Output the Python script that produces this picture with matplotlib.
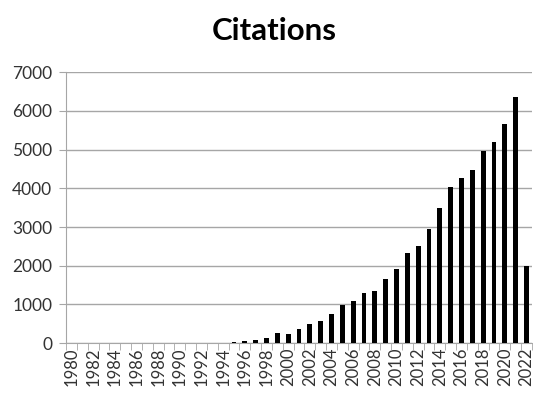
import matplotlib.pyplot as plt
import numpy as np

years = list(range(1980, 2023))
citations = [0] * 15 + [20, 60, 90, 130, 265, 240, 355, 505, 575, 750, 975, 1090,
                        1285, 1355, 1670, 1920, 2330, 2500, 2940, 3500, 4025, 4270,
                        4460, 4960, 5200, 5650, 6365, 2000]
year_labels = [str(y) if y % 2 == 0 else "" for y in years]

plt.rcParams['font.family'] = ['Lato', 'DejaVu Sans']

fig = plt.figure(figsize=(5.33, 3.94), dpi=100)
ax = fig.add_axes([0.124, 0.129, 0.874, 0.688])

x = np.arange(len(years))
ax.bar(x, citations, width=0.45, color='black', zorder=3)

ax.set_xlim(-0.5, len(years) - 0.5)
ax.set_ylim(0, 7000)
ax.set_yticks(range(0, 7001, 1000))
ax.yaxis.grid(True, color='#a6a6a6', lw=1)
ax.set_axisbelow(True)

# labels at bar centres, tick marks at bar boundaries
ax.set_xticks(x)
ax.set_xticklabels(year_labels, rotation=90, fontsize=12, color='#333333')
ax.tick_params(axis='x', length=0, pad=3)
ax.set_xticks(np.arange(-0.5, len(years), 1), minor=True)
ax.tick_params(axis='x', which='minor', length=5, color='#a6a6a6', direction='out')

ax.tick_params(axis='y', labelsize=12.5, labelcolor='#333333', length=5,
               color='#a6a6a6', pad=5)

for s in ['top', 'right']:
    ax.spines[s].set_visible(False)
for s in ['left', 'bottom']:
    ax.spines[s].set_color('#a6a6a6')

fig.text(0.515, 0.922, "Citations", ha='center', va='center', fontsize=22.5, fontweight='bold')

fig.savefig("out.png", dpi=100)
